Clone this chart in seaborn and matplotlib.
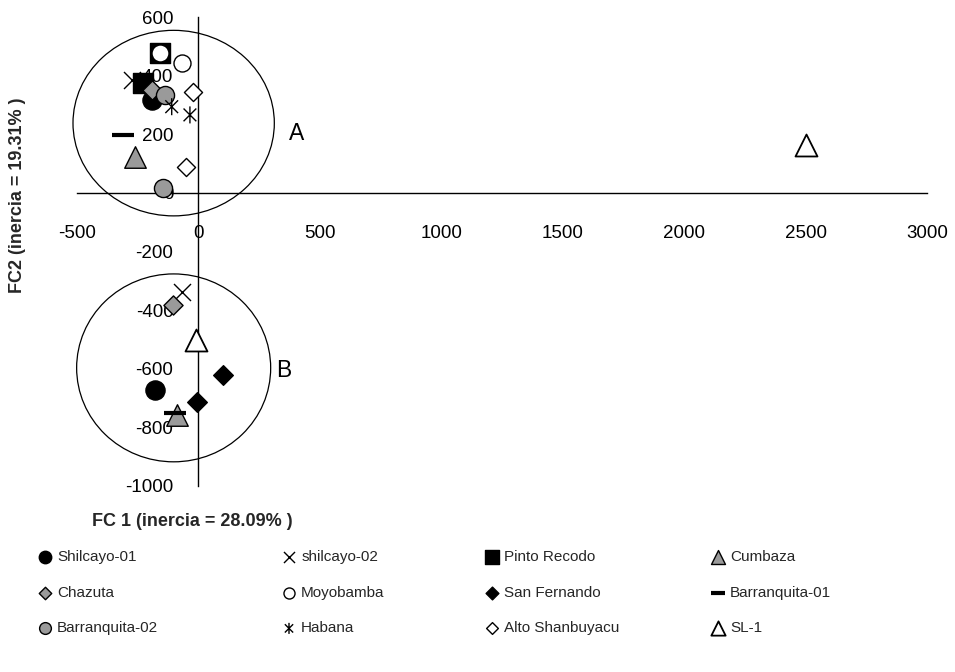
import matplotlib
matplotlib.use("Agg")
import matplotlib.pyplot as plt
import seaborn as sns
import pandas as pd
from matplotlib.patches import Ellipse
from matplotlib.path import Path

# ---------------- data ----------------
populations = ["Shilcayo-01", "shilcayo-02", "Pinto Recodo", "Cumbaza",
               "Chazuta", "Moyobamba", "San Fernando", "Barranquita-01",
               "Barranquita-02", "Habana", "Alto Shanbuyacu", "SL-1"]
fc1_values = [[-192, -179], [-275, -69], [-158, -227], [-261, -89],
              [-192, -103], [-158, -69], [103, -7], [-309, -96],
              [-138, -145], [-110, -35], [-21, -51], [2500, -10]]
fc2_values = [[317, -672], [385, -337], [477, 374], [124, -758],
              [351, -382], [477, 442], [-621, -712], [198, -750],
              [334, 16], [294, 266], [345, 89], [165, -502]]
x_ticks = [-500, 0, 500, 1000, 1500, 2000, 2500, 3000]
y_ticks = [-1000, -800, -600, -400, -200, 0, 200, 400, 600]
x_label = "FC 1 (inercia = 28.09% )"
y_label = "FC2 (inercia = 19.31% )"
groups = ["A", "B"]
group_centers_x = [-102, -102]
group_centers_y = [238, -597]
group_widths = [829, 799]
group_heights = [633, 641]
group_label_x = [404, 350]
group_label_y = [204, -605]

# ---------------- style ----------------
sns.set_style("white")
plt.rcParams["font.family"] = ["Liberation Sans", "DejaVu Sans"]
plt.rcParams["axes.unicode_minus"] = False

GRAY = "#9a9a9a"
asterisk = Path([(0, -1), (0, 1), (-0.75, -0.75), (0.75, 0.75), (-0.75, 0.75), (0.75, -0.75)],
                [Path.MOVETO, Path.LINETO, Path.MOVETO, Path.LINETO, Path.MOVETO, Path.LINETO])

styles = {
    "Shilcayo-01":     dict(marker="o", s=190, facecolor="black", edgecolor="black", linewidth=1),
    "shilcayo-02":     dict(marker="x", s=150, color="black", linewidth=1),
    "Pinto Recodo":    dict(marker="s", s=210, facecolor="black", edgecolor="black", linewidth=1),
    "Cumbaza":         dict(marker="^", s=240, facecolor=GRAY, edgecolor="black", linewidth=1),
    "Chazuta":         dict(marker="D", s=95, facecolor=GRAY, edgecolor="black", linewidth=1),
    "Moyobamba":       dict(marker="o", s=150, facecolor="white", edgecolor="black", linewidth=1),
    "San Fernando":    dict(marker="D", s=100, facecolor="black", edgecolor="black", linewidth=1),
    "Barranquita-01":  dict(marker="_", s=260, color="black", linewidth=3),
    "Barranquita-02":  dict(marker="o", s=170, facecolor=GRAY, edgecolor="black", linewidth=1),
    "Habana":          dict(marker=asterisk, s=150, facecolor="none", edgecolor="black", linewidth=1),
    "Alto Shanbuyacu": dict(marker="D", s=85, facecolor="white", edgecolor="black", linewidth=1),
    "SL-1":            dict(marker="^", s=250, facecolor="white", edgecolor="black", linewidth=1.3),
}

fig = plt.figure(figsize=(9.55, 6.72), dpi=100)
ax = fig.add_axes([77 / 955, 1 - 486 / 672, 850 / 955, 469 / 672])

for i, name in enumerate(populations):
    df = pd.DataFrame({"FC1": fc1_values[i], "FC2": fc2_values[i]})
    sns.scatterplot(data=df, x="FC1", y="FC2", ax=ax, legend=False, label=name,
                    zorder=3 + i * 0.01, **styles[name])

for g, cx, cy, w, h, lx, ly in zip(groups, group_centers_x, group_centers_y, group_widths,
                                    group_heights, group_label_x, group_label_y):
    ax.add_patch(Ellipse((cx, cy), w, h, fill=False, edgecolor="black", linewidth=0.9,
                         zorder=2, clip_on=False))
    ax.text(lx, ly, g, fontsize=16.5, ha="center", va="center", color="black")

ax.set_xlim(-500, 3000)
ax.set_ylim(-1000, 600)
ax.set_xticks(x_ticks)
ax.set_yticks(y_ticks)
ax.set_xlabel("")
ax.set_ylabel("")
ax.set_axisbelow(True)
for side in ["top", "right"]:
    ax.spines[side].set_visible(False)
ax.spines["left"].set_position(("data", 0))
ax.spines["bottom"].set_position(("data", 0))
for side in ["left", "bottom"]:
    ax.spines[side].set_color("black")
    ax.spines[side].set_linewidth(1)
    ax.spines[side].set_zorder(2.5)
ax.tick_params(axis="x", direction="out", length=7, width=1, pad=16, labelsize=13.5, colors="black")
ax.tick_params(axis="y", direction="out", length=7, width=1, pad=11, labelsize=13.5, colors="black")
ax.set_facecolor("white")

lab_font = ["Liberation Sans Narrow", "Liberation Sans", "DejaVu Sans"]
fig.text(92 / 955, 1 - 521 / 672, x_label, ha="left", va="center", fontsize=13,
         fontweight="bold", family=lab_font)
fig.text(18 / 955, 1 - 195 / 672, y_label, ha="center", va="center", fontsize=13,
         fontweight="bold", rotation=90, family=lab_font)

# legend: 4 columns x 3 rows, placed column by column
handles, labels = ax.get_legend_handles_labels()
hmap = dict(zip(labels, handles))
ncol = 4
col_marker_x = [45, 289, 492, 718]
leg_fs = 11
handle_len = 0.9
half_handle_px = handle_len * leg_fs * 100 / 72 / 2
for c in range(ncol):
    names = [populations[r * ncol + c] for r in range(3)]
    fig.legend([hmap[n] for n in names], names, loc="upper left",
               bbox_to_anchor=((col_marker_x[c] - half_handle_px) / 955, 1 - 550 / 672),
               frameon=False, fontsize=leg_fs, markerscale=0.65, handlelength=handle_len,
               handletextpad=0.35, labelspacing=1.42, borderpad=0, borderaxespad=0)

fig.savefig("out.png", dpi=100, facecolor="white")
